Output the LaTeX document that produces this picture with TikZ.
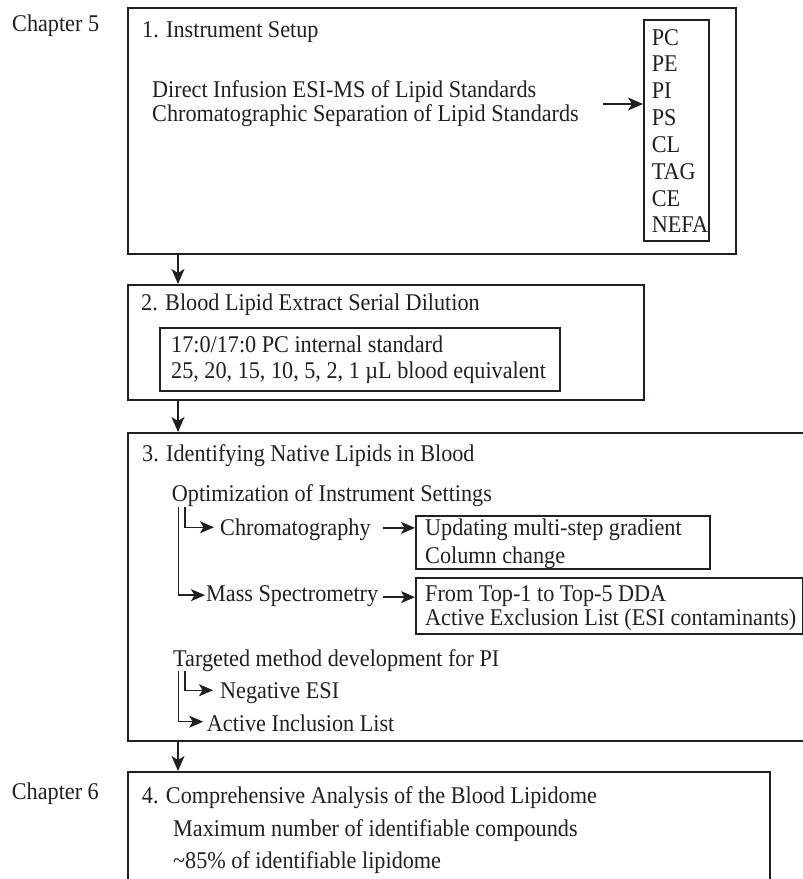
\documentclass[tikz,border=0pt]{standalone}
\usepackage{fontspec}
\setmainfont[FakeStretch=0.925]{Liberation Serif}
\usetikzlibrary{arrows.meta,calc}
\definecolor{ink}{HTML}{231F20}
\newcommand\mainfs{\fontsize{24pt}{27pt}\selectfont}
\tikzset{
  txt/.style={anchor=base west, inner sep=0pt, font=\mainfs, text=ink},
  box/.style={draw=ink, line width=1.6pt, anchor=north west, inner sep=0pt},
  arr/.style={draw=ink, line width=1.4pt, -{Stealth[length=15pt,width=13pt,inset=4pt]}},
  arrs/.style={draw=ink, line width=1.4pt, -{Stealth[length=14pt,width=12pt,inset=3.5pt]}},
}
\begin{document}
\begin{tikzpicture}[x=1pt,y=-1pt]
\useasboundingbox (0,0) rectangle (803,879);
\fill[white] (0,0) rectangle (803,879);
\clip (0,0) rectangle (803,879);

% boxes
\node[box, minimum width=608pt, minimum height=246pt] (b1) at (127,7) {};
\node[box, minimum width=65pt, minimum height=221pt] (lst) at (643,19) {};
\node[box, minimum width=516pt, minimum height=115pt] (b2) at (127,284) {};
\node[box, minimum width=400pt, minimum height=63pt] (in2) at (159,327) {};
\node[box, minimum width=690pt, minimum height=308pt] (b3) at (127,432) {};
\node[box, minimum width=294pt, minimum height=53pt] (cbox) at (415,515) {};
\node[box, minimum width=387pt, minimum height=56pt] (mbox) at (415,577) {};
\node[box, minimum width=642pt, minimum height=130pt] (b4) at (127,771) {};

% side labels
\node[txt] (ch5) at (12,31) {Chapter 5};
\node[txt] (ch6) at (11.7,799.3) {Chapter 6};

% box 1
\node[txt] (t1) at (142,37) {1. Instrument Setup};
\node[txt] (d1) at (152,97) {Direct Infusion ESI-MS of Lipid Standards};
\node[txt] (d2) at (152,121) {Chromatographic Separation of Lipid Standards};
\foreach \t [count=\i] in {PC,PE,PI,PS,CL,TAG,CE,NEFA}
  \node[txt] (l\i) at (651.7,{45+26.85*(\i-1)}) {\t};

% box 2
\node[txt] (t2) at (141,310) {2. Blood Lipid Extract Serial Dilution};
\node[txt] (s1) at (171,352) {17:0/17:0 PC internal standard};
\node[txt] (s2) at (171,378.5) {25, 20, 15, 10, 5, 2, 1 µL blood equivalent};

% box 3
\node[txt] (t3) at (142,461.7) {3. Identifying Native Lipids in Blood};
\node[txt] (opt) at (171.7,501.7) {Optimization of Instrument Settings};
\node[txt] (chrom) at (220,535) {Chromatography};
\node[txt] (u1) at (425,535) {Updating multi-step gradient};
\node[txt] (u2) at (425,563.3) {Column change};
\node[txt] (mass) at (206,601.5) {Mass Spectrometry};
\node[txt] (m1) at (425,601) {From Top-1 to Top-5 DDA};
\node[txt] (m2) at (425,625) {Active Exclusion List (ESI contaminants)};
\node[txt] (tgt) at (173,666) {Targeted method development for PI};
\node[txt] (neg) at (220,698.3) {Negative ESI};
\node[txt] (incl) at (206.7,731.7) {Active Inclusion List};

% box 4
\node[txt] (t4) at (141.7,803.3) {4. Comprehensive Analysis of the Blood Lipidome};
\node[txt] (x1) at (173,836.7) {Maximum number of identifiable compounds};
\node[txt] (x2) at (173,868.3) {\textasciitilde 85\% of identifiable lipidome};

% main flow arrows
\draw[arr] ([xshift=51pt]b1.south west) -- ([xshift=51pt]b2.north west);
\draw[arr] ([xshift=51pt]b2.south west) -- ([xshift=51pt]b3.north west);
\draw[arr] ([xshift=51pt]b3.south west) -- ([xshift=51pt]b4.north west);

% list arrow
\coordinate (la) at (603,104);
\draw[arr] (la) -- (la -| lst.west);

% chromatography / mass spec arrows
\coordinate (cx) at (383,0);
\coordinate (cy) at ([yshift=1.4pt]chrom.east);
\coordinate (my) at ([yshift=-1pt]mass.east);
\draw[arrs] (cy -| cx) -- (cy -| cbox.west);
\draw[arrs] (my -| cx) -- (my -| mbox.west);

% tree connectors
\draw[arrs] ([xshift=13.3pt]opt.south west) |- ([xshift=-6pt,yshift=2pt]chrom.west);
\draw[arrs] ([xshift=6.6pt]opt.south west) |- ([xshift=-1pt,yshift=1pt]mass.west);
\draw[arrs] ([xshift=12pt]tgt.south west) |- ([xshift=-7pt,yshift=2.7pt]neg.west);
\draw[arrs] ([xshift=5.3pt]tgt.south west) |- ([xshift=-3.5pt,yshift=1.8pt]incl.west);
\end{tikzpicture}
\end{document}
